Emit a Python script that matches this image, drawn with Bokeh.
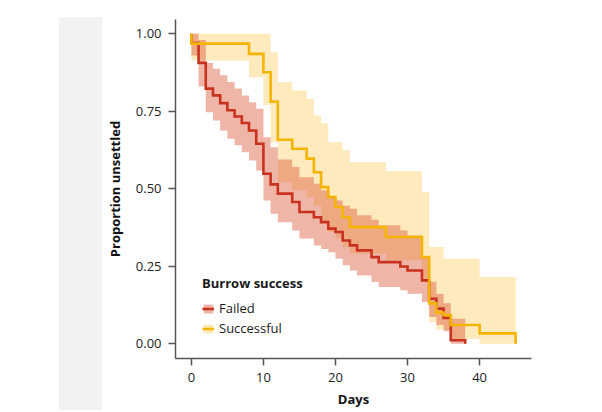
from bokeh.plotting import figure
from bokeh.models import (ColumnDataSource, Legend, LegendItem, FixedTicker,
                          Range1d, Div, Spacer)
from bokeh.layouts import row, column
from bokeh.embed import file_html
from bokeh.resources import INLINE

# ---- data ----
fail_days = [0, 0, 1, 2, 3, 4, 5, 6, 7, 8, 9, 10, 11, 12, 14, 15, 17, 18, 19,
             20, 21, 22, 23, 25, 26, 29, 30, 32, 33, 34, 35, 36, 38]
fail_surv = [1.0, 0.97, 0.906, 0.823, 0.801, 0.776, 0.753, 0.733, 0.712, 0.688,
             0.645, 0.548, 0.514, 0.484, 0.457, 0.425, 0.408, 0.392, 0.371,
             0.36, 0.333, 0.317, 0.301, 0.279, 0.263, 0.249, 0.236, 0.204,
             0.145, 0.113, 0.083, 0.011, 0.0]
fail_lower = [0.93, 0.93, 0.83, 0.747, 0.72, 0.688, 0.661, 0.64, 0.618, 0.591,
              0.559, 0.462, 0.419, 0.392, 0.365, 0.339, 0.317, 0.305, 0.295,
              0.274, 0.253, 0.236, 0.22, 0.199, 0.183, 0.172, 0.161, 0.134,
              0.086, 0.06, 0.04, 0.0, 0.0]
fail_upper = [1.0, 1.0, 0.98, 0.906, 0.887, 0.866, 0.844, 0.823, 0.801, 0.779,
              0.758, 0.666, 0.634, 0.594, 0.57, 0.537, 0.516, 0.495, 0.473,
              0.462, 0.445, 0.435, 0.414, 0.40, 0.382, 0.365, 0.349, 0.279,
              0.20, 0.16, 0.13, 0.08, 0.0]

succ_days = [0, 0, 8, 10, 11, 12, 14, 16, 17, 18, 19, 20, 21, 22, 27, 32, 33,
             34, 35, 36, 40, 45]
succ_surv = [1.0, 0.968, 0.935, 0.876, 0.781, 0.658, 0.629, 0.597, 0.553,
             0.505, 0.473, 0.441, 0.408, 0.376, 0.344, 0.279, 0.13, 0.1, 0.092,
             0.06, 0.033, 0.0]
succ_lower = [0.914, 0.914, 0.86, 0.77, 0.65, 0.52, 0.495, 0.473, 0.446, 0.392,
              0.36, 0.339, 0.312, 0.29, 0.269, 0.2, 0.07, 0.045, 0.045, 0.015,
              0.0, 0.0]
succ_upper = [1.0, 1.0, 1.0, 1.0, 0.94, 0.844, 0.817, 0.79, 0.736, 0.71, 0.65,
              0.65, 0.624, 0.586, 0.556, 0.489, 0.312, 0.312, 0.274, 0.274,
              0.215, 0.0]

x_ticks = [0, 10, 20, 30, 40]
y_ticks = [0, 0.25, 0.5, 0.75, 1]
y_tick_labels = ["0.00", "0.25", "0.50", "0.75", "1.00"]

group_names = ["Failed", "Successful"]
legend_title = "Burrow success"

FONT = "Open Sans"
RED = "#c8321e"
RED_FILL = "#dc5a3c"
YEL = "#f5b400"
YEL_FILL = "#fdc548"

fail_src = ColumnDataSource(dict(d=fail_days, s=fail_surv, lo=fail_lower, hi=fail_upper))
succ_src = ColumnDataSource(dict(d=succ_days, s=succ_surv, lo=succ_lower, hi=succ_upper))

p = figure(width=480, height=410, x_range=Range1d(-2.2, 47.2),
           y_range=Range1d(-0.048, 1.046), output_backend="svg",
           toolbar_location=None, min_border_left=70, min_border_right=51,
           min_border_top=19, min_border_bottom=52)

succ_band = p.varea_step(x="d", y1="lo", y2="hi", step_mode="after",
                         source=succ_src, fill_color=YEL_FILL, fill_alpha=0.36)
fail_band = p.varea_step(x="d", y1="lo", y2="hi", step_mode="after",
                         source=fail_src, fill_color=RED_FILL, fill_alpha=0.45)
fail_line = p.step(x="d", y="s", mode="after", source=fail_src, line_color=RED,
                   line_width=2.6, line_join="miter")
succ_line = p.step(x="d", y="s", mode="after", source=succ_src, line_color=YEL,
                   line_width=2.6, line_join="miter")

legend = Legend(items=[LegendItem(label=group_names[0], renderers=[fail_band, fail_line]),
                       LegendItem(label=group_names[1], renderers=[succ_band, succ_line])],
                title=legend_title, location=(27, 21))
legend.title_text_font = FONT
legend.title_text_font_style = "bold"
legend.title_text_font_size = "13px"
legend.title_text_color = "#1a1a1a"
legend.label_text_font = FONT
legend.label_text_font_size = "13px"
legend.label_text_color = "#1a1a1a"
legend.background_fill_alpha = 0
legend.border_line_color = None
legend.padding = 4
legend.margin = 0
legend.spacing = 2
legend.glyph_width = 12
legend.glyph_height = 11
legend.label_height = 17
legend.label_standoff = 5
legend.title_standoff = 7
p.add_layout(legend)

p.xaxis.ticker = FixedTicker(ticks=x_ticks)
p.yaxis.ticker = FixedTicker(ticks=y_ticks)
p.yaxis.major_label_overrides = dict(zip(y_ticks, y_tick_labels))
p.xaxis.axis_label = "Days"
p.yaxis.axis_label = "Proportion unsettled"

for ax in (p.xaxis[0], p.yaxis[0]):
    ax.axis_line_color = "#555555"
    ax.axis_line_width = 1.5
    ax.major_tick_line_color = "#555555"
    ax.major_tick_line_width = 1.5
    ax.major_tick_out = 7
    ax.major_tick_in = 0
    ax.minor_tick_out = 0
    ax.minor_tick_in = 0
    ax.major_label_text_font = FONT
    ax.major_label_text_font_size = "13px"
    ax.major_label_text_color = "#222222"
    ax.axis_label_text_font = FONT
    ax.axis_label_text_font_style = "bold"
    ax.axis_label_text_font_size = "13px"
    ax.axis_label_text_color = "#111111"

p.xaxis.major_label_standoff = 7
p.xaxis.axis_label_standoff = 5
p.yaxis.major_label_standoff = 7
p.yaxis.axis_label_standoff = 9

p.xgrid.grid_line_color = None
p.ygrid.grid_line_color = None
p.outline_line_color = None
p.background_fill_color = "white"
p.border_fill_color = "white"

grey = Div(text="", width=43, height=393, margin=0,
           styles={"background-color": "#f2f2f2"})
left = column(Spacer(width=43, height=17, margin=0), grey, margin=0, spacing=0)
layout = row(Spacer(width=59, height=10, margin=0), left, p, margin=0, spacing=0)

open("out.html", "w").write(file_html(layout, INLINE))
